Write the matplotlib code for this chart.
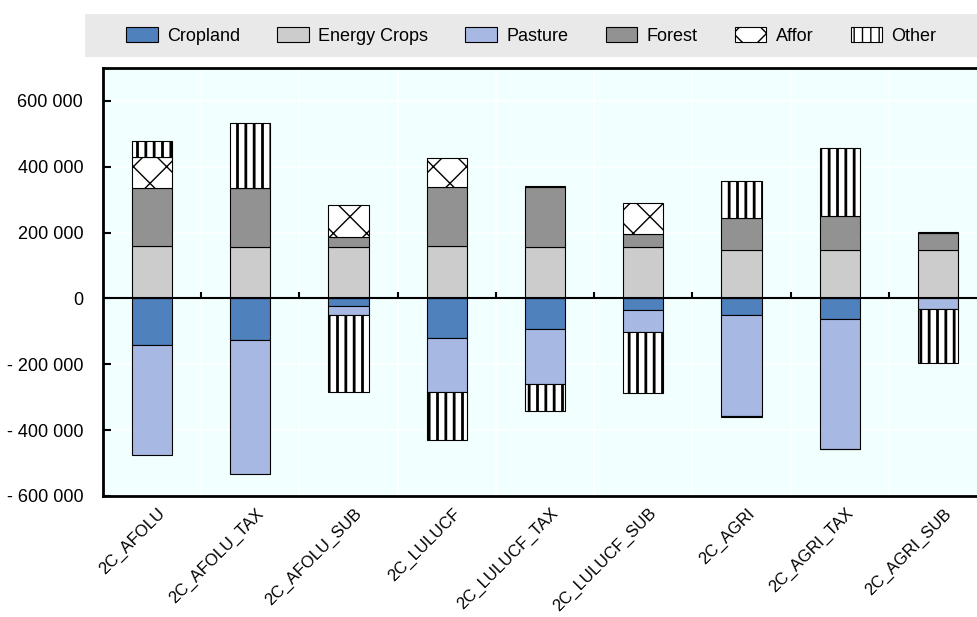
import numpy as np
import matplotlib
matplotlib.use("Agg")
import matplotlib.pyplot as plt
import matplotlib.transforms as mtransforms
from matplotlib.patches import Patch, Rectangle
from matplotlib.ticker import FuncFormatter, FixedLocator

plt.rcParams['font.family'] = ['Liberation Sans', 'DejaVu Sans']

# scenarios
categories = ['2C_AFOLU', '2C_AFOLU_TAX', '2C_AFOLU_SUB', '2C_LULUCF', '2C_LULUCF_TAX',
              '2C_LULUCF_SUB', '2C_AGRI', '2C_AGRI_TAX', '2C_AGRI_SUB']

# values
cropland = [-141000, -125000, -23000, -120000, -94000, -35000, -50000, -62000, 0]
energy_crops = [159000, 156000, 156000, 159000, 155000, 155000, 147000, 147000, 147000]
pasture = [-334000, -408000, -26000, -163000, -167000, -67000, -307000, -394000, -31000]
forest = [178000, 178000, 31000, 179000, 183000, 42000, 98000, 103000, 53000]
affor = [92000, 0, 96000, 89000, 2500, 92000, -2500, -2500, 2500]
other = [48000, 198000, -234000, -146000, -80000, -185000, 111000, 206000, -165000]

series = [
    ('Cropland', cropland, '#4F81BD', None, 1.0),
    ('Energy Crops', energy_crops, '#CCCCCC', None, 1.0),
    ('Pasture', pasture, '#A7B9E3', None, 1.0),
    ('Forest', forest, '#929292', None, 1.0),
    ('Affor', affor, 'white', 'x', 1.0),
    ('Other', other, 'white', '||', 2.0),
]

fig = plt.figure(figsize=(9.78, 6.17), dpi=100)
ax = fig.add_axes([0.105, 1 - 496 / 617, 0.9046, (496 - 68) / 617])
ax.set_facecolor('#F2FFFF')

x = np.arange(len(categories))
pos_bottom = np.zeros(len(categories))
neg_bottom = np.zeros(len(categories))
handles = []
for name, vals, color, hatch, hlw in series:
    vals = np.array(vals, dtype=float)
    bottom = np.where(vals >= 0, pos_bottom, neg_bottom)
    with plt.rc_context({'hatch.linewidth': hlw}):
        ax.bar(x, vals, width=0.41, bottom=bottom, color=color, edgecolor='black',
               linewidth=0.8, hatch=hatch, zorder=3)
        handles.append(Patch(facecolor=color, edgecolor='black', linewidth=0.8, hatch=hatch, label=name))
    pos_bottom += np.where(vals > 0, vals, 0)
    neg_bottom += np.where(vals < 0, vals, 0)

ax.set_xlim(-0.5, len(categories) - 0.5)
ax.set_ylim(-600000, 700000)
yticks = np.arange(-600000, 600001, 200000)
ax.yaxis.set_major_locator(FixedLocator(yticks))

def fmt(v, pos):
    s = f"{abs(int(v)):,}".replace(',', ' ')
    return ('- ' + s) if v < 0 else s

ax.yaxis.set_major_formatter(FuncFormatter(fmt))
ax.tick_params(axis='y', direction='in', length=6, width=1.5, labelsize=13, pad=14, colors='black')
ax.set_xticks(x)
ax.set_xticklabels(categories, rotation=45, ha='right', rotation_mode='anchor', fontsize=12)
ax.tick_params(axis='x', length=0, pad=7)
shift = mtransforms.ScaledTranslation(4 / 72, 0, fig.dpi_scale_trans)
for lbl in ax.get_xticklabels():
    lbl.set_transform(lbl.get_transform() + shift)

# white grid
for yv in yticks:
    ax.axhline(yv, color='white', linewidth=1.2, zorder=1)
for b in np.arange(0.5, len(categories) - 0.5):
    ax.axvline(b, color='white', linewidth=1.2, zorder=1)

# zero line with small ticks between categories
ax.axhline(0, color='black', linewidth=1.5, zorder=4)
ax.vlines(np.arange(0.5, len(categories) - 0.5), 0, 20000, color='black', linewidth=1.5, zorder=4)

for sp in ax.spines.values():
    sp.set_linewidth(2)

# legend band
fig.patches.append(Rectangle((85 / 978, 1 - 57 / 617), (978 - 85) / 978, 43 / 617,
                             transform=fig.transFigure, facecolor='#E9E9E9', edgecolor='none', zorder=0))
fig.legend(handles=handles, loc='center left', bbox_to_anchor=(126 / 978, 1 - 36 / 617),
           ncol=6, frameon=False, fontsize=13, handlelength=1.75, handleheight=0.93,
           handletextpad=0.5, columnspacing=2.08, borderaxespad=0, borderpad=0)

fig.savefig('out.png', dpi=100)
